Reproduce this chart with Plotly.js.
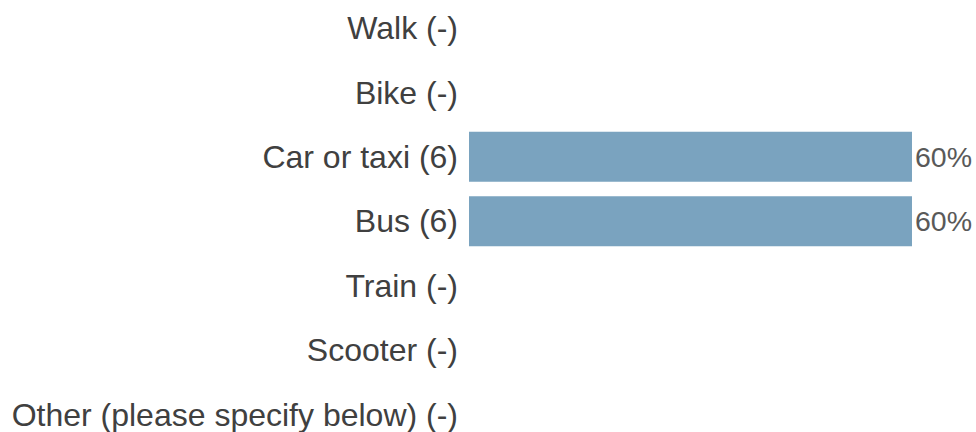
<!DOCTYPE html>
<html>
<head>
<meta charset="utf-8">
<script src="https://cdn.plot.ly/plotly-3.0.1.min.js"></script>
<style>html,body{margin:0;padding:0;background:#fff;}#chart{width:976px;height:432px;}</style>
</head>
<body>
<div id="chart"></div>
<script>
var categories = ["Walk (-)", "Bike (-)", "Car or taxi (6)", "Bus (6)", "Train (-)", "Scooter (-)", "Other (please specify below) (-)"];
var values = [null, null, 60, 60, null, null, null];
var valueLabels = ["", "", "60%", "60%", "", "", ""];

var trace = {
  type: "bar",
  orientation: "h",
  y: categories,
  x: values,
  text: valueLabels,
  textposition: "outside",
  cliponaxis: false,
  textfont: {family: "Arial, 'Liberation Sans', sans-serif", size: 28.5, color: "#595959"},
  marker: {color: "#7aa3bf"},
  hoverinfo: "none"
};

var layout = {
  width: 976,
  height: 432,
  margin: {l: 469, r: 0, t: 0, b: 0, pad: 0},
  paper_bgcolor: "#ffffff",
  plot_bgcolor: "#ffffff",
  bargap: 0.224,
  showlegend: false,
  font: {family: "Arial, 'Liberation Sans', sans-serif", color: "#404040"},
  xaxis: {range: [0, 68.67], visible: false, fixedrange: true},
  yaxis: {
    type: "category",
    categoryorder: "array",
    categoryarray: categories,
    range: [6.273, -0.435],
    showgrid: false,
    zeroline: false,
    showline: false,
    ticks: "",
    ticklabelstandoff: 10,
    tickfont: {size: 32, color: "#404040"},
    fixedrange: true
  }
};

Plotly.newPlot("chart", [trace], layout, {displayModeBar: false, staticPlot: true});
</script>
</body>
</html>
